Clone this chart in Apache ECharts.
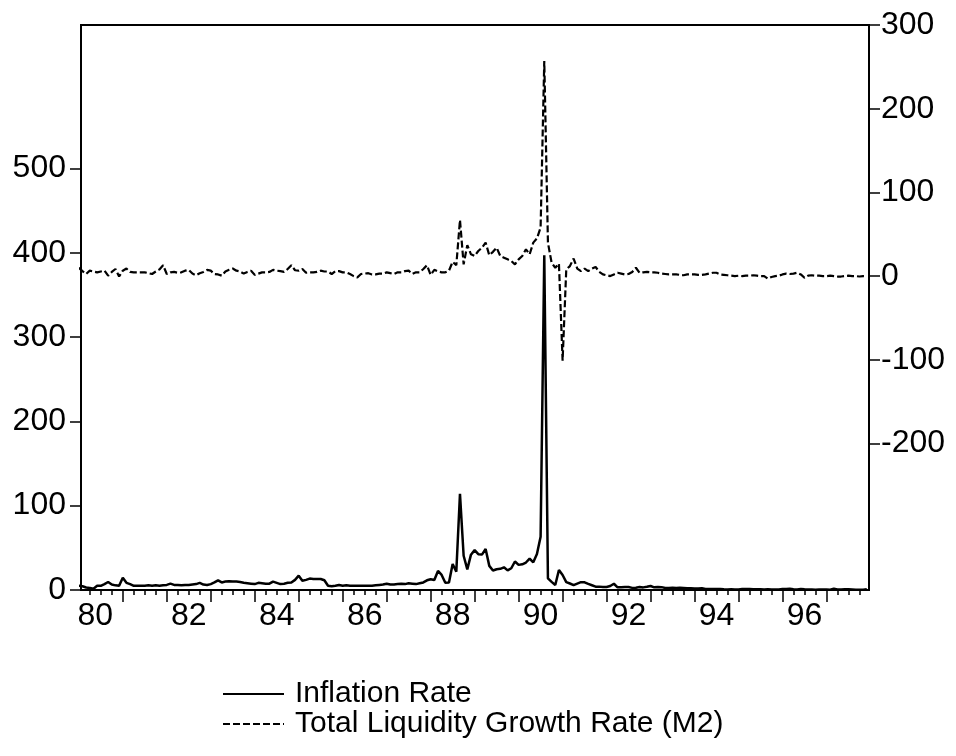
<!DOCTYPE html>
<html>
<head>
<meta charset="utf-8">
<script src="https://cdn.jsdelivr.net/npm/echarts@6/dist/echarts.min.js"></script>
<style>
html,body{margin:0;padding:0;background:#fff;}
#chart{width:956px;height:756px;}
</style>
</head>
<body>
<div id="chart"></div>
<script>
// Monthly observations, 1980M01 .. 1997M12 (216 months)
const startYear = 1980;

// Inflation Rate (left axis), 12 values per year
const inflation = [
  5, 4.5, 3, 2.5, 1.5, 5, 5, 7, 9.5, 6.5, 5.5, 5,                 // 1980
  14.5, 8.5, 7, 5, 5, 5, 5, 5.5, 5, 5.5, 5, 5.5,                  // 1981
  6, 7.5, 6, 6, 5.5, 6, 6, 6.5, 7, 8.5, 6.5, 6,                   // 1982
  7, 9, 11.5, 9, 10, 10.5, 10, 10, 9.5, 8.5, 8, 7.5,              // 1983
  7, 8.5, 8, 7.5, 7.5, 10, 8.5, 7, 7.5, 8.5, 9, 12,               // 1984
  17, 11, 12, 13.5, 13, 13, 13, 11.5, 5, 4.5, 5, 6,               // 1985
  5, 5.5, 5, 5, 5, 5, 5, 5, 5, 5.5, 6, 6.5,                       // 1986
  7.5, 6.5, 6.5, 7, 7.5, 7, 8, 7.5, 7, 8, 9, 11.5,                // 1987
  12.8, 11.8, 22.6, 17.9, 8.5, 8.8, 30.9, 21.7, 114.1, 40.6, 24.4, 41.9,   // 1988
  47.3, 42.5, 42.0, 48.6, 28.6, 23.1, 24.6, 25.1, 26.9, 23.3, 25.8, 33.8,  // 1989
  29.8, 30.5, 32.6, 37.3, 32.8, 42.6, 63.2, 397.0, 13.8, 9.6, 5.9, 23.7,   // 1990
  17.8, 9.4, 7.7, 5.8, 7.6, 9.3, 9.1, 7.2, 5.6, 4.0, 4.0, 3.7,    // 1991
  3.5, 4.7, 7.4, 3.2, 3.4, 3.6, 3.5, 2.5, 2.7, 3.6, 3.1, 3.8,     // 1992
  4.8, 3.2, 3.6, 3.4, 2.4, 2.5, 2.8, 2.4, 2.6, 2.3, 2.0, 2.0,     // 1993
  1.8, 1.8, 2.0, 1.1, 1.3, 1.2, 1.3, 1.2, 0.9, 0.7, 0.8, 0.7,     // 1994
  0.6, 1.2, 1.3, 1.1, 0.8, 0.9, 0.8, 0.7, 0.8, 0.5, 0.6, 0.6,     // 1995
  1.2, 1.2, 1.5, 1.0, 0.7, 1.2, 0.9, 0.7, 0.6, 0.4, 0.5, 0.6,     // 1996
  0.7, 0.4, 1.5, 0.6, 0.6, 0.8, 1.0, 0.6, 0.2, 0.4, 0.4, 0.9      // 1997
];

// Total Liquidity Growth Rate (M2) (right axis)
const m2growth = [
  10, 6, 2.5, 6.5, 5.5, 4.5, 5.5, 6.5, 0.5, 5, 8.5, -0.5,         // 1980
  6.5, 9, 5, 4.5, 4.5, 4.5, 4.5, 3.5, 2.5, 5.5, 8, 13,            // 1981
  2.5, 4.5, 5, 4, 4.5, 6.5, 7.5, 3, 1, 3.5, 5, 7.5,               // 1982
  6.5, 2.5, 2, 0.5, 5.5, 7.5, 9, 6.5, 5.5, 3, 5, 6.5,             // 1983
  1.5, 3, 4.5, 4.5, 5, 7.5, 6.5, 6, 5, 8.5, 13, 7,                // 1984
  6.5, 8.5, 4, 4.5, 4.5, 5, 6.5, 5.5, 5.5, 2.5, 6, 6,             // 1985
  4.5, 4.5, 2.5, 0, -1.5, 2.5, 3, 3.5, 2, 2, 3, 3,                // 1986
  4.5, 3.5, 2.5, 4.5, 4.5, 6, 6.5, 2.5, 4.5, 4.5, 8.5, 13,        // 1987
  1.5, 7.5, 5.5, 4.5, 4.5, 6.5, 17, 13, 67, 14, 37, 26,           // 1988
  24, 30, 34, 40, 25, 29, 34, 24, 22, 20, 18, 14,                 // 1989
  20, 24, 32, 26, 40, 45, 58, 257, 40, 16, 10, 15,                // 1990
  -101, 8, 12, 21, 9, 6, 9, 6, 9, 11, 5, 2,                       // 1991
  1, 0, 2, 4, 3, 2, 2.5, 5, 10, 4, 4.5, 5,                        // 1992
  4.5, 4.5, 4, 3, 2.5, 2, 2, 2, 1.5, 1, 2, 2,                     // 1993
  2, 1.5, 1.5, 2, 3, 4, 4, 2, 1.5, 1, 0.5, 0,                     // 1994
  0.5, 0, 0.5, 0.5, 1, 0.5, 0, 0, -3, -1, 0, 0.5,                 // 1995
  2, 3, 2.5, 3, 4, 2, -2, 0.5, 1, 0.5, 0.5, 0,                    // 1996
  0, 0.5, 0, -0.5, -0.5, 0, 0.5, 0, 0, -0.5, 0, 0                 // 1997
];

const xTickLabels = ['80','82','84','86','88','90','92','94','96'];
const leftTicks = [0, 100, 200, 300, 400, 500];
const rightTicks = [-200, -100, 0, 100, 200, 300];
const seriesNames = ['Inflation Rate', 'Total Liquidity Growth Rate (M2)'];

// month index -> [x, y] pairs
const infData = inflation.map((v, i) => [i, v]);
const m2Data = m2growth.map((v, i) => [i, v]);

const nMonths = inflation.length;
const minorTicks = [];
for (let i = 3; i < nMonths; i += 3) if (i % 12 !== 0) minorTicks.push(i);
const majorTicks = [];
for (let i = 12; i < nMonths; i += 12) majorTicks.push(i);
const labelPos = xTickLabels.map((s, k) => (Number(s) + 1900 - startYear) * 12 + (k === 0 ? 4.5 : 6));

const FONT = 'Liberation Sans, Arial, sans-serif';
const chart = echarts.init(document.getElementById('chart'), null, {renderer: 'canvas'});
chart.setOption({
  animation: false,
  backgroundColor: '#fff',
  textStyle: {fontFamily: FONT, color: '#000'},
  grid: {left: 81, right: 87, top: 25, bottom: 166, show: true, borderColor: '#000', borderWidth: 2, backgroundColor: 'transparent'},
  legend: {
    orient: 'vertical', left: 217, top: 674,
    itemWidth: 61, itemHeight: 14, itemGap: 0,
    itemStyle: {opacity: 0},
    textStyle: {fontSize: 30, fontFamily: FONT, color: '#000', lineHeight: 28, padding: [0, 0, 0, 6]},
    data: seriesNames
  },
  xAxis: [{
    type: 'value', min: 0.6, max: nMonths - 0.4, position: 'bottom',
    axisLine: {show: true, onZero: false, lineStyle: {color: '#000', width: 2}},
    axisTick: {show: true, inside: false, length: 5, customValues: minorTicks, lineStyle: {color: '#000', width: 1.5}},
    axisLabel: {show: false},
    splitLine: {show: false}
  }, {
    type: 'value', min: 0.6, max: nMonths - 0.4, position: 'bottom',
    axisLine: {show: false, onZero: false},
    axisTick: {show: true, inside: false, length: 12, customValues: majorTicks, lineStyle: {color: '#000', width: 1.5}},
    axisLabel: {
      show: true, customValues: labelPos, margin: 10, fontSize: 32, color: '#000', fontFamily: FONT,
      formatter: v => { const k = labelPos.indexOf(v); return k >= 0 ? xTickLabels[k] : ''; }
    },
    splitLine: {show: false}
  }],
  yAxis: [{
    type: 'value', min: 0, max: 670, position: 'left',
    axisLine: {show: true, onZero: false, lineStyle: {color: '#000', width: 2}},
    axisTick: {show: true, inside: false, length: 11, customValues: leftTicks, lineStyle: {color: '#000', width: 1.5}},
    axisLabel: {show: true, customValues: leftTicks, margin: 15, fontSize: 32, color: '#000', fontFamily: FONT},
    splitLine: {show: false}
  }, {
    type: 'value', min: -375, max: 300, position: 'right',
    axisLine: {show: true, onZero: false, lineStyle: {color: '#000', width: 2}},
    axisTick: {show: true, inside: false, length: 11, customValues: rightTicks, lineStyle: {color: '#000', width: 1.5}},
    axisLabel: {show: true, customValues: rightTicks, margin: 12, fontSize: 32, color: '#000', fontFamily: FONT},
    splitLine: {show: false}
  }],
  series: [{
    name: seriesNames[0], type: 'line', xAxisIndex: 0, yAxisIndex: 0,
    data: infData, showSymbol: false, symbol: 'none',
    lineStyle: {color: '#000', width: 2.5, type: 'solid'}, itemStyle: {color: '#000'}
  }, {
    name: seriesNames[1], type: 'line', xAxisIndex: 0, yAxisIndex: 1,
    data: m2Data, showSymbol: false, symbol: 'none',
    lineStyle: {color: '#000', width: 2.2, type: [7, 3]}, itemStyle: {color: '#000'}
  }]
});
</script>
</body>
</html>
